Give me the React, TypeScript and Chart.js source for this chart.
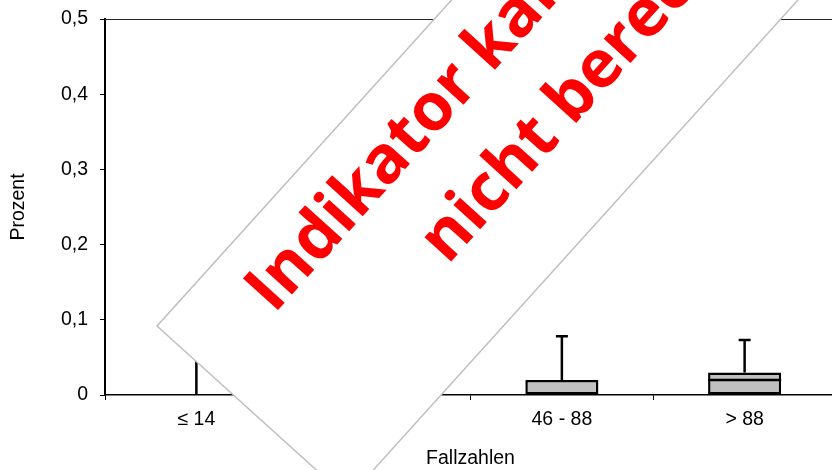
import { useEffect, useRef } from 'react';
import { Chart, registerables } from 'chart.js';

Chart.register(...registerables);

// ---- data ----
const categories = ['≤ 14', '15 - 45', '46 - 88', '> 88'];
const q1 = [0, 0, 0, 0];
const median = [0, 0, 0, 0.02];
const q3 = [0, 0.01, 0.02, 0.03];
const whiskerMax = [0.06, 0.05, 0.078, 0.073];
const yTickLabels = ['0', '0,1', '0,2', '0,3', '0,4', '0,5'];
const overlayLines = ['Indikator kann', 'nicht berechnet'];

const FONT = "'Liberation Sans', Arial, sans-serif";

export default function App() {
  const ref = useRef<HTMLCanvasElement>(null);

  useEffect(() => {
    const canvas = ref.current;
    if (!canvas) return;

    const boxPlugin = {
      id: 'boxExtras',
      afterDatasetsDraw(chart: any) {
        const { ctx, chartArea, scales } = chart;
        const x = scales.x;
        const y = scales.y;
        const meta = chart.getDatasetMeta(0);
        ctx.save();
        // plot-area top/right border
        ctx.strokeStyle = '#222';
        ctx.lineWidth = 1;
        ctx.beginPath();
        ctx.moveTo(chartArea.left, chartArea.top + 0.5);
        ctx.lineTo(chartArea.right, chartArea.top + 0.5);
        ctx.moveTo(chartArea.right, chartArea.top);
        ctx.lineTo(chartArea.right, chartArea.bottom);
        ctx.stroke();

        ctx.strokeStyle = '#000';
        ctx.lineWidth = 2.5;
        categories.forEach((_, i) => {
          const bar = meta.data[i] as any;
          const cx = x.getPixelForValue(i);
          const top = y.getPixelForValue(whiskerMax[i]);
          const boxTop = y.getPixelForValue(q3[i]);
          ctx.beginPath();
          ctx.moveTo(cx, boxTop);
          ctx.lineTo(cx, top);
          ctx.moveTo(cx - 6, top);
          ctx.lineTo(cx + 6, top);
          ctx.stroke();
          if (q3[i] > q1[i] && median[i] > q1[i]) {
            const my = y.getPixelForValue(median[i]);
            ctx.beginPath();
            ctx.moveTo(bar.x - bar.width / 2, my);
            ctx.lineTo(bar.x + bar.width / 2, my);
            ctx.stroke();
          }
        });
        ctx.restore();
      },
    };

    const overlayPlugin = {
      id: 'overlay',
      afterDraw(chart: any) {
        const { ctx } = chart;
        ctx.save();
        ctx.translate(157, 326);
        ctx.rotate((-47.9 * Math.PI) / 180);
        ctx.fillStyle = '#ffffff';
        ctx.fillRect(0, 0, 900, 257);
        ctx.strokeStyle = '#c0c0c0';
        ctx.lineWidth = 1.5;
        ctx.strokeRect(0, 0, 900, 257);
        ctx.fillStyle = '#ff0000';
        ctx.font = "bold 66px 'Open Sans', sans-serif";
        ctx.textAlign = 'left';
        ctx.textBaseline = 'alphabetic';
        ctx.fillText(overlayLines[0], 87, 79);
        ctx.fillText(overlayLines[1], 240, 175);
        ctx.restore();
      },
    };

    const chart = new Chart(canvas, {
      type: 'bar',
      data: {
        labels: categories,
        datasets: [
          {
            data: categories.map((_, i) => [q1[i], q3[i]]) as any,
            backgroundColor: '#c0c0c0',
            borderColor: '#000',
            borderWidth: 2.5,
            borderSkipped: false,
            barPercentage: 0.4,
            categoryPercentage: 1,
          },
        ],
      },
      options: {
        responsive: false,
        animation: false,
        devicePixelRatio: 1,
        layout: { padding: { top: 19, right: 14, left: 0, bottom: 0 } },
        plugins: {
          legend: { display: false },
          tooltip: { enabled: false },
        },
        scales: {
          x: {
            grid: {
              display: true,
              drawOnChartArea: false,
              offset: true,
              tickLength: 5,
              color: '#000',
            },
            border: { display: true, color: '#000', width: 1.5 },
            ticks: {
              color: '#000',
              font: { family: FONT, size: 19.5 },
              padding: 8,
              maxRotation: 0,
              autoSkip: false,
            },
            title: {
              display: true,
              text: 'Fallzahlen',
              color: '#000',
              font: { family: FONT, size: 19.5 },
              padding: { top: 0, bottom: 0 },
            },
            afterFit(s: any) {
              s.height = 75;
              s.paddingLeft = 0;
              s.paddingRight = 0;
            },
          },
          y: {
            min: 0,
            max: 0.5,
            ticks: {
              stepSize: 0.1,
              color: '#000',
              font: { family: FONT, size: 19.5 },
              padding: 12,
              callback: (_v: any, i: number) => yTickLabels[i],
            },
            grid: {
              display: true,
              drawOnChartArea: false,
              tickLength: 5,
              color: '#000',
            },
            border: { display: true, color: '#000', width: 2 },
            title: {
              display: true,
              text: 'Prozent',
              color: '#000',
              font: { family: FONT, size: 19.5 },
              padding: { top: 6.5, bottom: 0 },
            },
            afterFit(s: any) {
              s.width = 105;
              s.paddingTop = 0;
              s.paddingBottom = 0;
            },
          },
        },
      },
      plugins: [boxPlugin, overlayPlugin],
    });

    return () => chart.destroy();
  }, []);

  return (
    <div
      style={{
        position: 'absolute',
        left: 0,
        top: 0,
        width: 832,
        height: 470,
        overflow: 'hidden',
        background: '#fff',
      }}
    >
      <canvas
        ref={ref}
        width={850}
        height={470}
        style={{ display: 'block', width: 850, height: 470 }}
      />
    </div>
  );
}
